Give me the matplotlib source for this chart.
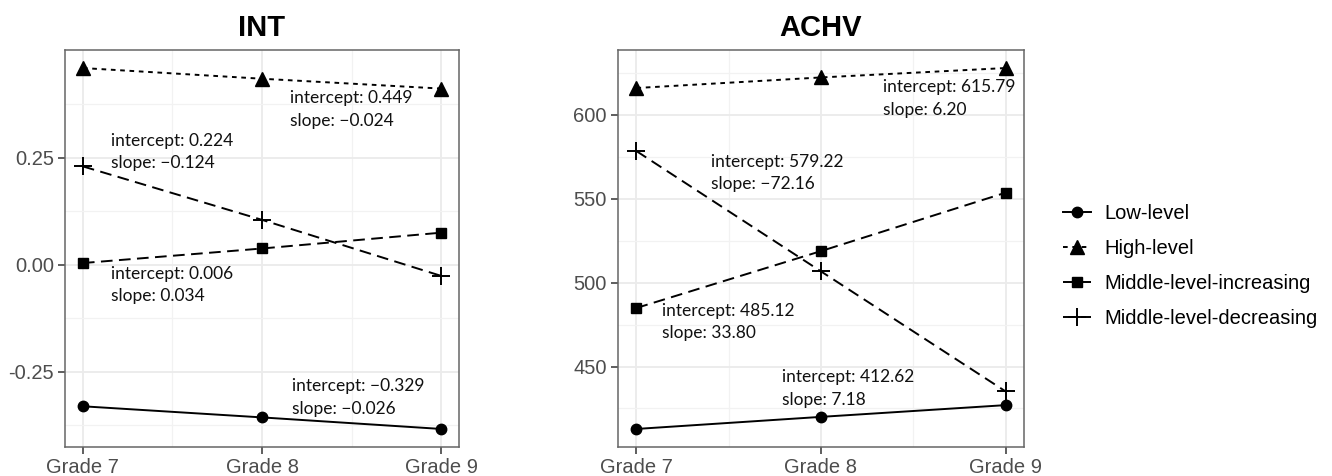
import numpy as np
import matplotlib
matplotlib.use('Agg')
import matplotlib.pyplot as plt
from matplotlib.ticker import FixedLocator

plt.rcParams['font.family'] = ['Liberation Sans', 'DejaVu Sans']
plt.rcParams['axes.unicode_minus'] = False

grades = ['Grade 7', 'Grade 8', 'Grade 9']
groups = ['Low-level', 'High-level', 'Middle-level-increasing', 'Middle-level-decreasing']

int_low = [-0.331, -0.357, -0.384]
int_high = [0.460, 0.435, 0.412]
int_mid_inc = [0.004, 0.038, 0.075]
int_mid_dec = [0.230, 0.105, -0.026]

achv_low = [412.8, 420.0, 427.0]
achv_high = [616.0, 622.3, 627.9]
achv_mid_inc = [484.9, 518.8, 553.6]
achv_mid_dec = [578.4, 506.7, 435.2]

int_intercepts = ['−0.329', '0.449', '0.006', '0.224']
int_slopes = ['−0.026', '−0.024', '0.034', '−0.124']
achv_intercepts = ['412.62', '615.79', '485.12', '579.22']
achv_slopes = ['7.18', '6.20', '33.80', '−72.16']

int_ticks = [-0.25, 0.0, 0.25]
int_ticklabels = ['-0.25', '0.00', '0.25']
achv_ticks = [450, 500, 550, 600]

# label anchor points (x in grade units, y in data units)
int_label_pos = [(2.17, -0.311), (2.156, 0.363), (1.156, -0.047), (1.156, 0.264)]
achv_label_pos = [(1.788, 436.8), (2.335, 609.8), (1.14, 476.4), (1.404, 565.4)]

styles = [
    dict(marker='o', ms=7.5, linestyle='-'),
    dict(marker='^', ms=9.5, linestyle=(0, (2.4, 2.4))),
    dict(marker='s', ms=7.5, linestyle=(0, (6, 3.3))),
    dict(marker='+', ms=13, mew=1.4, linestyle=(0, (6, 3.3))),
]

fig = plt.figure(figsize=(13.32, 4.76), dpi=100)
W, H = 1332, 476
ax1 = fig.add_axes([65 / W, 29 / H, 394 / W, 397 / H])
ax2 = fig.add_axes([618 / W, 29 / H, 406 / W, 397 / H])

x = np.arange(1, 4)


def draw(ax, series, title, ticks, ticklabels, label_pos, intercepts, slopes):
    handles = []
    for vals, st, name in zip(series, styles, groups):
        h, = ax.plot(x, vals, color='black', lw=1.4, label=name, **st)
        handles.append(h)
    for (px, py), ic, sl in zip(label_pos, intercepts, slopes):
        ax.text(px, py, f'intercept: {ic}\nslope: {sl}', family=['Lato', 'DejaVu Sans'],
                fontsize=12.5, ha='left', va='center', linespacing=1.5, color='#111111')
    allv = np.concatenate([np.asarray(s) for s in series])
    lo, hi = allv.min(), allv.max()
    pad = (hi - lo) * 0.05
    ax.set_ylim(lo - pad, hi + pad)
    ax.set_xlim(0.9, 3.1)
    ax.set_xticks(x)
    ax.set_xticklabels(grades)
    ax.set_yticks(ticks)
    ax.set_yticklabels(ticklabels)
    step = ticks[1] - ticks[0]
    minor = np.arange(ticks[0] - step / 2, ticks[-1] + step, step)
    ax.yaxis.set_minor_locator(FixedLocator(minor))
    ax.xaxis.set_minor_locator(FixedLocator([1.5, 2.5]))
    ax.grid(which='major', color='#ebebeb', lw=1.3, zorder=0)
    ax.grid(which='minor', color='#f2f2f2', lw=0.9, zorder=0)
    ax.set_axisbelow(True)
    ax.tick_params(which='major', length=5, width=1.1, color='#333333',
                   labelsize=14.5, labelcolor='#4d4d4d', pad=3)
    ax.tick_params(which='minor', length=0)
    for s in ax.spines.values():
        s.set_color('#666666')
        s.set_linewidth(1.1)
    ax.set_title(title, fontsize=21, fontweight='bold', pad=10)
    return handles


handles = draw(ax1, [int_low, int_high, int_mid_inc, int_mid_dec], 'INT',
               int_ticks, int_ticklabels, int_label_pos, int_intercepts, int_slopes)
draw(ax2, [achv_low, achv_high, achv_mid_inc, achv_mid_dec], 'ACHV',
     achv_ticks, [str(t) for t in achv_ticks], achv_label_pos, achv_intercepts, achv_slopes)

fig.legend(handles=handles, loc='upper left', bbox_to_anchor=(1055 / W, 1 - 196 / H),
           frameon=False, fontsize=14.5, handlelength=1.4, handletextpad=0.65,
           labelspacing=0.8, borderaxespad=0)

fig.savefig('out.png', dpi=100)
